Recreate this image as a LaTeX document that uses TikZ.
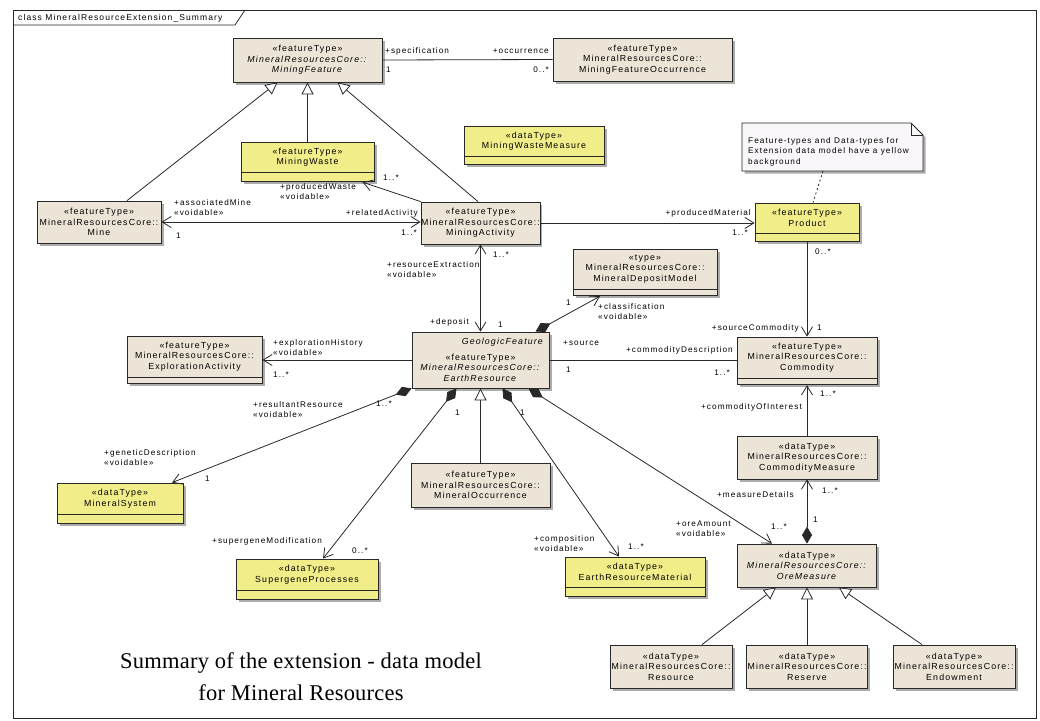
\documentclass[tikz,border=0pt]{standalone}
\usepackage{fontspec}
\newfontfamily\umlfont[LetterSpace=13]{Liberation Sans}
\newfontfamily\capfont[LetterSpace=1]{Liberation Serif}
\usetikzlibrary{arrows.meta,positioning,shadows}

\definecolor{beige}{RGB}{236,229,215}
\definecolor{ylw}{RGB}{241,238,138}
\definecolor{notebg}{RGB}{249,247,249}
\definecolor{ink}{RGB}{40,40,40}

\tikzset{
  cls/.style={draw=ink, fill=beige, line width=0.8pt, inner sep=0pt, align=center,
    font=\umlfont\fontsize{8.8}{10.5}\selectfont,
    drop shadow={shadow xshift=2.5pt, shadow yshift=-2.5pt, fill=black!40, opacity=0.8}},
  ext/.style={cls, fill=ylw},
  lbl/.style={inner sep=0pt, align=left, font=\umlfont\fontsize{8.2}{10}\selectfont},
  link/.style={draw=ink, line width=0.8pt},
  nav/.style={link, -{Straight Barb[length=9pt,width=11pt]}},
  bnav/.style={link, {Straight Barb[length=9pt,width=11pt]}-{Straight Barb[length=9pt,width=11pt]}},
  gen/.style={link, -{Triangle[open,length=12pt,width=12pt,fill=white]}},
  part/.style={link, {Diamond[length=17pt,width=10pt]}-{Straight Barb[length=9pt,width=11pt]}},
  frame/.style={draw=ink, line width=0.8pt}
}

\begin{document}
\begin{tikzpicture}[x=1pt, y=-1pt]

  %% Background
  \useasboundingbox (0,0) rectangle (1040,720);

  % Diagram frame
  \draw[frame] (13,10) rectangle (1036,718);
  \draw[frame] (13,25) -- (235,25) -- (245,10);
  \node[lbl, anchor=base west, font=\umlfont\fontsize{8.5}{10}\selectfont] (title) at (18,20) {class MineralResourceExtension\_Summary};

  % Classes
  \node[cls, minimum width=149pt, minimum height=44pt] (MF) at (307.5,60) {«featureType»\\\textit{MineralResourcesCore::}\\\textit{MiningFeature}};
  \node[cls, minimum width=179pt, minimum height=43pt] (MFO) at (642.5,59.5) {«featureType»\\MineralResourcesCore::\\MiningFeatureOccurrence};
  \node[ext, minimum width=133pt, minimum height=30pt] (MW) at (307.5,157) {«featureType»\\MiningWaste};
  \node[ext, minimum width=133pt, minimum height=9pt, below=0pt of MW] (MWc) {};
  \node[ext, minimum width=140pt, minimum height=30pt] (MWM) at (534,141) {«dataType»\\MiningWasteMeasure};
  \node[ext, minimum width=140pt, minimum height=8pt, below=0pt of MWM] (MWMc) {};
  \node[cls, minimum width=124pt, minimum height=42pt] (Mine) at (99,222) {«featureType»\\MineralResourcesCore::\\Mine};
  \node[cls, minimum width=117pt, minimum height=42pt] (MA) at (480.5,223) {«featureType»\\MineralResourcesCore::\\MiningActivity};
  \node[ext, minimum width=104pt, minimum height=30pt] (P) at (807,218) {«featureType»\\Product};
  \node[ext, minimum width=104pt, minimum height=8pt, below=0pt of P] (Pc) {};
  \node[cls, minimum width=144pt, minimum height=40pt] (MDM) at (645,269) {«type»\\MineralResourcesCore::\\MineralDepositModel};
  \node[cls, minimum width=144pt, minimum height=6pt, below=0pt of MDM] (MDMc) {};
  \node[cls, minimum width=137pt, minimum height=56pt] (ER) at (480.5,360) {\makebox[127pt][r]{\textit{GeologicFeature}}\\[5pt]«featureType»\\\textit{MineralResourcesCore::}\\\textit{EarthResource}};
  \node[cls, minimum width=135pt, minimum height=41pt] (EA) at (194.5,356.5) {«featureType»\\MineralResourcesCore::\\ExplorationActivity};
  \node[cls, minimum width=135pt, minimum height=6pt, below=0pt of EA] (EAc) {};
  \node[cls, minimum width=140pt, minimum height=41pt] (C) at (807,357.5) {«featureType»\\MineralResourcesCore::\\Commodity};
  \node[cls, minimum width=140pt, minimum height=6pt, below=0pt of C] (Cc) {};
  \node[cls, minimum width=140pt, minimum height=43pt] (CM) at (807,457.5) {«dataType»\\MineralResourcesCore::\\CommodityMeasure};
  \node[ext, minimum width=126pt, minimum height=31pt] (MS) at (120,498.5) {«dataType»\\MineralSystem};
  \node[ext, minimum width=126pt, minimum height=9pt, below=0pt of MS] (MSc) {};
  \node[cls, minimum width=139pt, minimum height=44pt] (MO) at (480.5,485) {«featureType»\\MineralResourcesCore::\\MineralOccurrence};
  \node[ext, minimum width=142pt, minimum height=31pt] (SP) at (307,574.5) {«dataType»\\SupergeneProcesses};
  \node[ext, minimum width=142pt, minimum height=9pt, below=0pt of SP] (SPc) {};
  \node[ext, minimum width=140pt, minimum height=30pt] (ERM) at (635,572) {«dataType»\\EarthResourceMaterial};
  \node[ext, minimum width=140pt, minimum height=9pt, below=0pt of ERM] (ERMc) {};
  \node[cls, minimum width=139pt, minimum height=43pt] (OM) at (807,565.5) {«dataType»\\\textit{MineralResourcesCore::}\\\textit{OreMeasure}};
  \node[cls, minimum width=122pt, minimum height=43pt] (Res) at (671,666.5) {«dataType»\\MineralResourcesCore::\\Resource};
  \node[cls, minimum width=121pt, minimum height=43pt] (Rsv) at (807,666.5) {«dataType»\\MineralResourcesCore::\\Reserve};
  \node[cls, minimum width=122pt, minimum height=43pt] (End) at (954,666.5) {«dataType»\\MineralResourcesCore::\\Endowment};

  % Note
  \draw[link, fill=notebg, drop shadow={shadow xshift=2.5pt, shadow yshift=-2.5pt, fill=black!40, opacity=0.8}]
    (742,123) -- (911,123) -- (923,135) -- (923,171) -- (742,171) -- cycle;
  \draw[link, line width=0.6pt] (911,123) -- (911,135) -- (923,135);
  \node[lbl, anchor=north west, font=\umlfont\fontsize{8.2}{10.5}\selectfont] (note) at (748,137) {Feature-types and Data-types for\\Extension data model have a yellow\\background};
  \coordinate (noteFoot) at (823,171);
  \draw[link, dash pattern=on 2pt off 2.5pt] (noteFoot) -- ([xshift=6pt]P.north);

  % Generalizations
  \draw[gen] ([xshift=28pt]Mine.north) -- ([xshift=-30pt]MF.south);
  \draw[gen] (MW.north) -- (MF.south);
  \draw[gen] ([xshift=-2.5pt]MA.north) -- ([xshift=30pt]MF.south);
  \draw[gen] (MO.north) -- (ER.south);
  \draw[gen] ([xshift=31pt]Res.north) -- ([xshift=-31pt]OM.south);
  \draw[gen] (Rsv.north) -- (OM.south);
  \draw[gen] ([xshift=-32pt]End.north) -- ([xshift=32pt]OM.south);

  % Associations
  \draw[link] (MF.east) -- (MFO.west);
  \draw[nav] (MA.north west) -- ([xshift=55pt]MWc.south);
  \draw[bnav] (Mine.east) -- (Mine.east -| MA.west);
  \draw[nav] (MA.east) -- (MA.east -| P.west);
  \draw[bnav] (MA.south) -- (ER.north);
  \draw[link] (ER.east) -- (ER.east -| C.west);
  \draw[nav] (Pc.south) -- (C.north);
  \draw[nav] (CM.north) -- (Cc.south);
  \draw[nav] (ER.west) -- (ER.west -| EA.east);

  % Compositions of EarthResource
  \draw[part] ([xshift=55pt]ER.north) -- ([xshift=-45pt]MDMc.south);
  \draw[part] (OM.north) -- (CM.south);
  \draw[part] (ER.south west) -- ([xshift=52pt]MS.north);
  \draw[part] ([xshift=-24pt]ER.south) -- ([xshift=16pt]SP.north);
  \draw[part] ([xshift=22pt]ER.south) -- ([xshift=-16pt]ERM.north);
  \draw[part] ([xshift=48pt]ER.south) -- ([xshift=-35pt]OM.north);

  % Role names and multiplicities
  \node[lbl, anchor=base west] (rSpec) at (385,53) {+specification};
  \node[lbl, anchor=base west] (mSpec) at (386,72) {1};
  \node[lbl, anchor=base east] (rOcc) at (549,53) {+occurrence};
  \node[lbl, anchor=base east] (mOcc) at (549,72) {0..*};
  \node[lbl, anchor=north west] (rMine) at (174,199) {+associatedMine\\«voidable»};
  \node[lbl, anchor=base west] (mMine) at (176,238) {1};
  \node[lbl, anchor=base east] (rRel) at (418,215) {+relatedActivity};
  \node[lbl, anchor=base east] (mRel) at (417,235) {1..*};
  \node[lbl, anchor=north west] (rWaste) at (280,183) {+producedWaste\\«voidable»};
  \node[lbl, anchor=base west] (mWaste) at (383,180) {1..*};
  \node[lbl, anchor=base east] (rProd) at (751,215) {+producedMaterial};
  \node[lbl, anchor=base east] (mProd) at (748,235) {1..*};
  \node[lbl, anchor=base west] (mProdC) at (815,254) {0..*};
  \node[lbl, anchor=base east] (rSrcC) at (799,330) {+sourceCommodity};
  \node[lbl, anchor=base west] (mSrcC) at (817,330) {1};
  \node[lbl, anchor=north west] (rExtr) at (387,261) {+resourceExtraction\\«voidable»};
  \node[lbl, anchor=base west] (mExtr) at (493,257) {1..*};
  \node[lbl, anchor=base west] (rDep) at (430,324) {+deposit};
  \node[lbl, anchor=base west] (mDep) at (498,327) {1};
  \node[lbl, anchor=base west] (mCls) at (566,305) {1};
  \node[lbl, anchor=north west] (rCls) at (598,303) {+classification\\«voidable»};
  \node[lbl, anchor=base west] (rSrc) at (563,345) {+source};
  \node[lbl, anchor=base west] (mSrc) at (566,372) {1};
  \node[lbl, anchor=base east] (rDesc) at (733,352) {+commodityDescription};
  \node[lbl, anchor=base east] (mDesc) at (730,375) {1..*};
  \node[lbl, anchor=north west] (rExpl) at (273,339) {+explorationHistory\\«voidable»};
  \node[lbl, anchor=base west] (mExpl) at (273,377) {1..*};
  \node[lbl, anchor=north west] (rRes) at (253,401) {+resultantResource\\«voidable»};
  \node[lbl, anchor=base west] (mRes) at (376,406) {1..*};
  \node[lbl, anchor=north west] (rGen) at (104,449) {+geneticDescription\\«voidable»};
  \node[lbl, anchor=base west] (mGen) at (205,481) {1};
  \node[lbl, anchor=base west] (mSup1) at (455,415) {1};
  \node[lbl, anchor=base west] (mComp1) at (520,415) {1};
  \node[lbl, anchor=base west] (rSup) at (212,543) {+supergeneModification};
  \node[lbl, anchor=base west] (mSup) at (352,553) {0..*};
  \node[lbl, anchor=north west] (rComp) at (534,535) {+composition\\«voidable»};
  \node[lbl, anchor=base west] (mComp) at (628,549) {1..*};
  \node[lbl, anchor=north west] (rOre) at (676,521) {+oreAmount\\«voidable»};
  \node[lbl, anchor=base west] (mOre) at (771,529) {1..*};
  \node[lbl, anchor=base east] (rInt) at (802,409) {+commodityOfInterest};
  \node[lbl, anchor=base west] (mInt) at (820,396) {1..*};
  \node[lbl, anchor=base east] (rMeas) at (794,497) {+measureDetails};
  \node[lbl, anchor=base west] (mMeas) at (822,493) {1..*};
  \node[lbl, anchor=base west] (mMeas1) at (813,522) {1};

  % Caption
  \node[inner sep=0pt, align=center, anchor=north, font=\capfont\fontsize{22.5}{32}\selectfont] (caption) at (301,652) {Summary of the extension - data model\\for Mineral Resources};

\end{tikzpicture}
\end{document}
